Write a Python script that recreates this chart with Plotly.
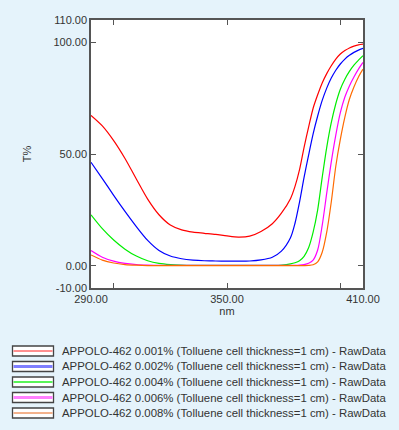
import plotly.graph_objects as go

wavelength = [290, 295, 300, 305, 310, 315, 320, 325, 330, 335, 340, 345, 350, 355, 360, 365,
              370, 374, 378, 380, 382, 384, 386, 388, 390, 392, 394, 396, 398, 400, 402, 404,
              406, 408, 410]

t_0001 = [67.3, 62.6, 56, 48, 38.8, 29.8, 22.8, 18.2, 16, 15, 14.5, 14, 13.3, 12.8, 13.2, 15.3,
          18.8, 23.5, 30, 35.5, 43, 53, 62, 70.5, 76.5, 81.8, 86, 89.5, 92.5, 94.8, 96.3, 97.5,
          98.3, 98.9, 99.2]
t_0002 = [46.3, 39, 31.5, 24.3, 17.5, 11.3, 6.8, 4.3, 3.1, 2.5, 2.2, 2.1, 2.0, 2.0, 2.1, 2.6,
          3.8, 6.5, 12.5, 19, 28.5, 39.5, 49.5, 59, 67, 74, 79.5, 84, 87.5, 90.3, 92.5, 94.2,
          95.5, 96.5, 97.3]
t_0004 = [22.8, 16.6, 11.5, 7.4, 4.3, 2.2, 1.0, 0.45, 0.2, 0.1, 0.1, 0.1, 0.1, 0.1, 0.1, 0.1,
          0.15, 0.3, 0.8, 1.3, 2.2, 4.2, 8, 15, 25, 39.5, 53, 64, 72.5, 79, 83.5, 87,
          89.8, 92, 94]
t_0006 = [6.8, 3.8, 2.0, 1.0, 0.5, 0.25, 0.1, 0.1, 0.1, 0.1, 0.1, 0.1, 0.1, 0.1, 0.1, 0.1,
          0.1, 0.1, 0.1, 0.1, 0.2, 0.5, 1.1, 2.5, 7, 18, 32.5, 46.5, 58.5, 68.5, 75.5, 80.5,
          84.5, 88, 91]
t_0008 = [4.8, 2.5, 1.2, 0.5, 0.2, 0.05, 0.05, 0.05, 0.05, 0.05, 0.05, 0.05, 0.05, 0.05, 0.05, 0.05,
          0.05, 0.05, 0.05, 0.05, 0.05, 0.05, 0.1, 0.4, 1.7, 6, 15, 28.5, 44.5, 56.5, 66.5, 74.5,
          80, 84.5, 88]

series_names = [
    "APPOLO-462 0.001% (Tolluene cell thickness=1 cm) - RawData",
    "APPOLO-462 0.002% (Tolluene cell thickness=1 cm) - RawData",
    "APPOLO-462 0.004% (Tolluene cell thickness=1 cm) - RawData",
    "APPOLO-462 0.006% (Tolluene cell thickness=1 cm) - RawData",
    "APPOLO-462 0.008% (Tolluene cell thickness=1 cm) - RawData",
]
series_values = [t_0001, t_0002, t_0004, t_0006, t_0008]
series_colors = ["#ff0000", "#0000ff", "#00ee00", "#ff00ff", "#ff6a00"]
legend_line_colors = ["#ff2020", "#7f7fff", "#20f020", "#ff80ff", "#e8661a"]
legend_line_widths = [1, 3, 1.5, 3, 1]

x_tickvals = [290, 300, 350, 400, 410]
x_ticktext = ["290.00", "", "350.00", "", "410.00"]
y_tickvals = [-10, 0, 50, 100, 110]
y_ticktext = ["-10.00", "0.00", "50.00", "100.00", "110.00"]

W, H = 399, 430
ML, MR, MT, MB = 91, 36, 20, 142
PW, PH = W - ML - MR, H - MT - MB


def px_x(px):
    return (px - ML) / PW


def px_y(py):
    return (H - MB - py) / PH


FONT = "Liberation Sans, Arial, sans-serif"

fig = go.Figure()
for name, vals, col in zip(series_names, series_values, series_colors):
    fig.add_trace(go.Scatter(x=wavelength, y=vals, mode="lines", name=name, showlegend=False,
                             line=dict(color=col, width=1.2, shape="spline", smoothing=0.8)))

# custom legend (boxed line samples, tight row spacing)
shapes = []
annotations = []
row0, row_gap = 351, 15.5
for i, (name, lc, lw) in enumerate(zip(series_names, legend_line_colors, legend_line_widths)):
    cy = row0 + i * row_gap
    shapes.append(dict(type="rect", xref="paper", yref="paper",
                       x0=px_x(12.5), x1=px_x(53.5), y0=px_y(cy - 5), y1=px_y(cy + 5),
                       line=dict(color="#444444", width=1.3), fillcolor="#ffffff", layer="above"))
    shapes.append(dict(type="line", xref="paper", yref="paper",
                       x0=px_x(13.5), x1=px_x(52.5), y0=px_y(cy), y1=px_y(cy),
                       line=dict(color=lc, width=lw), layer="above"))
    annotations.append(dict(text=name, xref="paper", yref="paper", x=px_x(59.5), y=px_y(cy),
                            xanchor="left", yanchor="middle", showarrow=False,
                            font=dict(family=FONT, size=11.4, color="#333333")))

axis_common = dict(showline=True, linecolor="#555555", linewidth=1.5, mirror="ticks",
                   ticks="inside", ticklen=5, tickcolor="#555555", tickwidth=1.2,
                   showgrid=False, zeroline=False, automargin=False,
                   tickfont=dict(family=FONT, size=11, color="#333333"))

fig.update_layout(
    width=W, height=H,
    margin=dict(l=ML, r=MR, t=MT, b=MB, autoexpand=False),
    paper_bgcolor="#e5f3fb", plot_bgcolor="#ffffff",
    font=dict(family=FONT, size=11, color="#333333"),
    xaxis=dict(range=[290, 410], tickvals=x_tickvals, ticktext=x_ticktext,
               title=dict(text="nm", standoff=2, font=dict(size=11)), **axis_common),
    yaxis=dict(range=[-10, 110], tickvals=y_tickvals, ticktext=y_ticktext,
               title=dict(text="T%", standoff=20, font=dict(size=11)), **axis_common),
    shapes=shapes,
    annotations=annotations,
    showlegend=False,
)

fig.write_html("out.html", config={"displayModeBar": False},
               post_script="document.body.style.margin='0';document.body.style.background='#e5f3fb';")
